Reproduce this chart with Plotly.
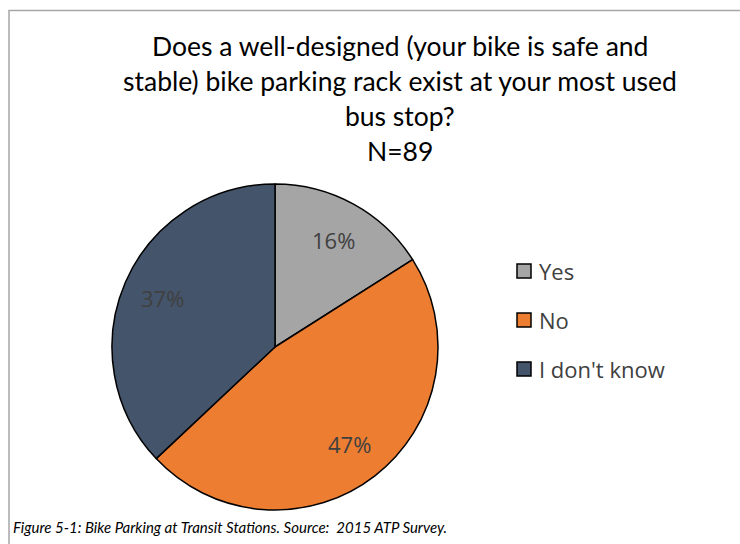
import math
import plotly.graph_objects as go

categories = ["Yes", "No", "I don't know"]
percents = [16, 47, 37]
colors = ["#a5a5a5", "#ed7d31", "#44546a"]
title_lines = [
    "Does a well-designed (your bike is safe and",
    "stable) bike parking rack exist at your most used",
    "bus stop?",
    "N=89",
]
caption = "Figure 5-1: Bike Parking at Transit Stations. Source:  2015 ATP Survey."

W, H = 740, 544
TITLE_FONT = "Lato, sans-serif"
BODY_FONT = "'Open Sans', sans-serif"

# pie geometry (pixels)
CX, CY, R = 275, 347, 163


def px(x):
    return x / W


def py(y):
    return 1 - y / H


fig = go.Figure()
fig.add_trace(go.Pie(
    labels=categories,
    values=percents,
    marker=dict(colors=colors, line=dict(color="#000000", width=1.5)),
    sort=False,
    direction="clockwise",
    rotation=0,
    textinfo="none",
    domain=dict(x=[px(CX - R), px(CX + R)], y=[py(CY + R), py(CY - R)]),
    showlegend=False,
    hoverinfo="label+percent",
))

annotations = []

# data labels placed at 0.75 R along each slice's mid-angle
total = sum(percents)
cum = 0
for v in percents:
    mid = (cum + v / 2) / total
    cum += v
    th = 2 * math.pi * mid
    lx = CX + 0.75 * R * math.sin(th)
    ly = CY - 0.75 * R * math.cos(th)
    annotations.append(dict(
        text=f"{v}%", x=px(lx), y=py(ly), xref="paper", yref="paper",
        xanchor="center", yanchor="middle", showarrow=False,
        font=dict(family=BODY_FONT, size=22, color="#404040"),
    ))

for i, line in enumerate(title_lines):
    annotations.append(dict(
        text=line, x=px(400), y=py(46 + 35 * i), xref="paper", yref="paper",
        xanchor="center", yanchor="middle", showarrow=False,
        font=dict(family=TITLE_FONT, size=26.5, color="#000000"),
    ))

shapes = []
for i, (cat, col) in enumerate(zip(categories, colors)):
    yc = 271 + 49 * i
    shapes.append(dict(
        type="rect", xref="paper", yref="paper",
        x0=px(517), x1=px(531), y0=py(yc + 7), y1=py(yc - 7),
        fillcolor=col, line=dict(color="#000000", width=1.5),
    ))
    annotations.append(dict(
        text=cat, x=px(537), y=py(yc), xref="paper", yref="paper",
        xanchor="left", yanchor="middle", showarrow=False,
        font=dict(family=BODY_FONT, size=22, color="#404040"),
    ))

annotations.append(dict(
    text="<i>" + caption + "</i>", x=px(11), y=py(527), xref="paper", yref="paper",
    xanchor="left", yanchor="middle", showarrow=False,
    font=dict(family="Lato, sans-serif", size=15, color="#000000"),
))

shapes.append(dict(
    type="rect", xref="paper", yref="paper",
    x0=px(9), x1=px(760), y0=py(10.5), y1=py(560),
    line=dict(color="#a6a6a6", width=1.5), fillcolor="rgba(0,0,0,0)",
))

fig.update_layout(
    width=W, height=H,
    margin=dict(l=0, r=0, t=0, b=0),
    paper_bgcolor="#ffffff",
    plot_bgcolor="#ffffff",
    annotations=annotations,
    shapes=shapes,
)

fig.write_html("out.html")
